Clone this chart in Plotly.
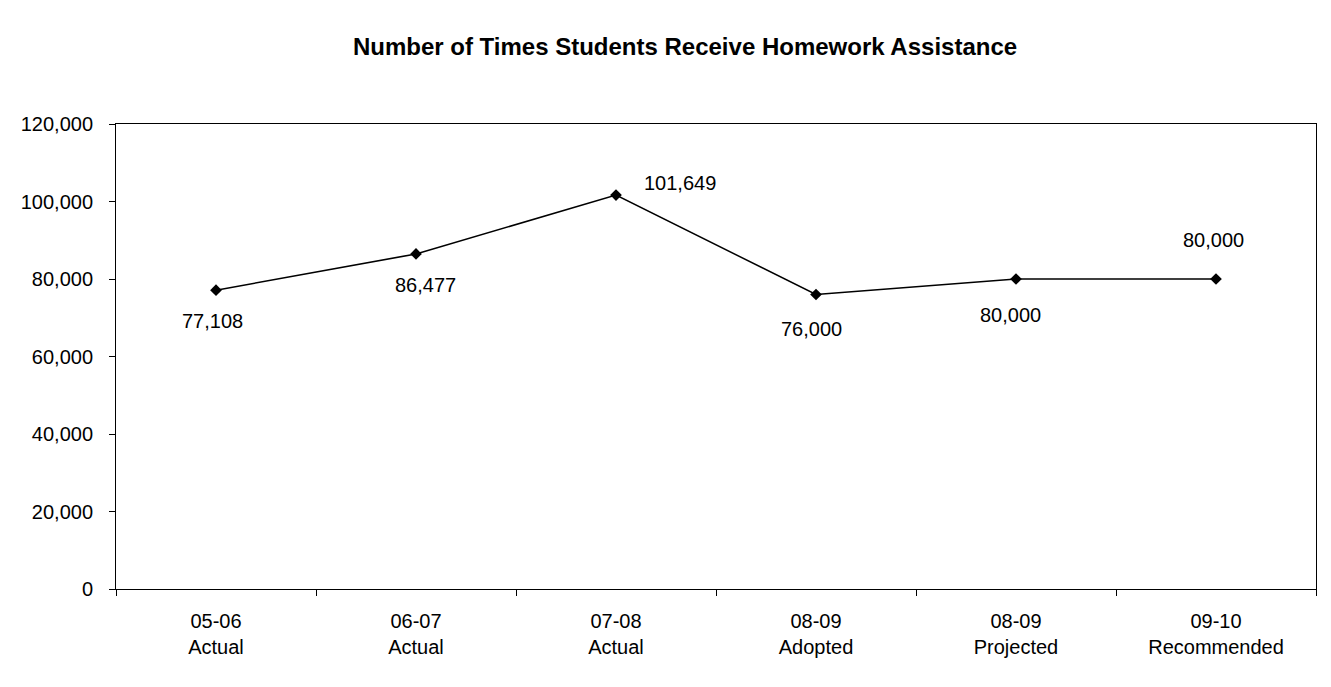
import plotly.graph_objects as go

periods = ["05-06", "06-07", "07-08", "08-09", "08-09", "09-10"]
stages = ["Actual", "Actual", "Actual", "Adopted", "Projected", "Recommended"]
values = [77108, 86477, 101649, 76000, 80000, 80000]
y_ticks = [0, 20000, 40000, 60000, 80000, 100000, 120000]

cats = [f"{p}<br>{s}" for p, s in zip(periods, stages)]
# label placement (offsets in px relative to marker)
label_shift = [(-4, -31), (9, -31), (64, 12), (-5, -34), (-6, -36), (-3, 39)]

FONT = "Liberation Sans, Arial, sans-serif"
PAGE_OFF = 8  # default body margin of the html page

W, H = 1331 - PAGE_OFF, 687 - PAGE_OFF

fig = go.Figure()
fig.add_trace(go.Scatter(
    x=list(range(len(values))), y=values, mode="lines+markers",
    line=dict(color="black", width=1.5),
    marker=dict(symbol="diamond", size=9, color="black"),
    showlegend=False, hoverinfo="skip",
))

for i, v in enumerate(values):
    dx, dy = label_shift[i]
    fig.add_annotation(x=i, y=v, text=f"{v:,}", showarrow=False,
                       xshift=dx, yshift=dy,
                       font=dict(family=FONT, size=20, color="black"))

fig.update_layout(
    width=W, height=H,
    margin=dict(l=116 - PAGE_OFF, r=15, t=124 - PAGE_OFF, b=98, pad=0),
    paper_bgcolor="white", plot_bgcolor="white",
    font=dict(family=FONT, size=20, color="black"),
    title=dict(text="<b>Number of Times Students Receive Homework Assistance</b>",
               x=(685 - PAGE_OFF) / W, xref="container", xanchor="center",
               y=1 - (47 - PAGE_OFF) / H, yref="container", yanchor="middle",
               font=dict(family=FONT, size=24, color="black")),
)

fig.update_xaxes(
    range=[-0.5, len(values) - 0.5],
    tickmode="array", tickvals=list(range(len(values))), ticktext=cats,
    showgrid=False, zeroline=False,
    showline=True, linecolor="black", linewidth=1, mirror=True,
    ticks="", ticklabelstandoff=14,
    tickfont=dict(family=FONT, size=20, color="black"),
)
# boundary ticks for the category axis
fig.update_xaxes(minor=dict(tickvals=[i + 0.5 for i in range(-1, len(values))],
                            ticks="outside", ticklen=6, tickcolor="black"))

fig.update_yaxes(
    range=[0, 120000], tickmode="array", tickvals=y_ticks,
    ticktext=[f"{t:,}" for t in y_ticks],
    showgrid=False, zeroline=False,
    showline=True, linecolor="black", linewidth=1, mirror=True,
    ticks="outside", ticklen=6, tickcolor="black", ticklabelstandoff=12,
    tickfont=dict(family=FONT, size=20, color="black"),
)

fig.write_html("out.html")
